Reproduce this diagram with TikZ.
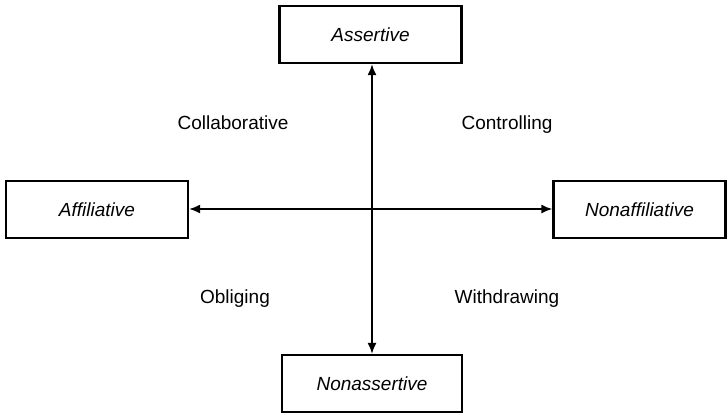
\documentclass[tikz,border=0pt]{standalone}
\usepackage{fontspec}
\setmainfont{Liberation Sans}
\usetikzlibrary{arrows.meta}
\begin{document}
\begin{tikzpicture}[x=1bp,y=-1bp,
  modebox/.style={draw,line width=2.2bp,minimum width=#1,minimum height=57bp,inner sep=0pt,
    font=\fontsize{19bp}{22bp}\selectfont\itshape},
  stylelabel/.style={font=\fontsize{19bp}{22bp}\selectfont,inner sep=0pt,anchor=base},
  axis/.style={line width=1.8bp,-{Latex[length=11bp,width=9bp]}}]
  \useasboundingbox (0,0) rectangle (727,414);
  % the four boxes
  \node[modebox=182bp] (assert)    at (370.5,34.5)  {Assertive};
  \node[modebox=182bp] (affil)     at (97,209.5)    {Affiliative};
  \node[modebox=172bp] (nonaffil)  at (639.5,209.5) {Nonaffiliative};
  \node[modebox=180bp] (nonassert) at (372,383.5)   {Nonassertive};
  % crossing axes
  \coordinate (c) at (372,209);
  \draw[axis] (c) -- (c |- assert.south);
  \draw[axis] (c) -- (c |- nonassert.north);
  \draw[axis] (c) -- (affil.east |- c);
  \draw[axis] (c) -- (nonaffil.west |- c);
  % quadrant labels
  \node[stylelabel] (collab)   at (233,129) {Collaborative};
  \node[stylelabel] (control)  at (507,129) {Controlling};
  \node[stylelabel] (oblig)    at (235,303) {Obliging};
  \node[stylelabel] (withdraw) at (507,303) {Withdrawing};
\end{tikzpicture}
\end{document}
